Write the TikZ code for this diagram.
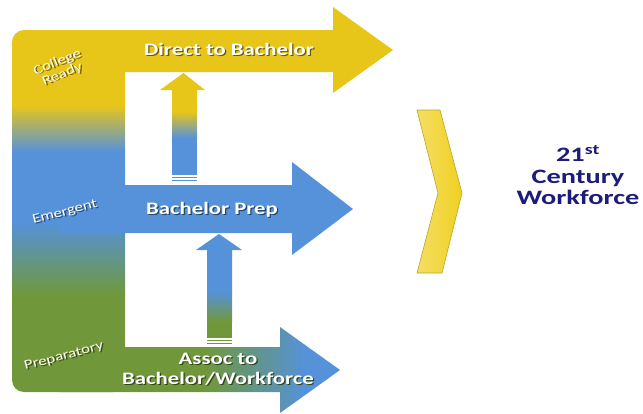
\documentclass[tikz,border=0pt]{standalone}
\usepackage{fontspec}
\setmainfont{Carlito}
\newfontfamily\widefont[FakeStretch=1.3]{Carlito}
\newfontfamily\widerfont[FakeStretch=1.38]{Carlito}
\definecolor{yellowc}{RGB}{232,198,25}
\definecolor{bluec}{RGB}{85,146,218}
\definecolor{greenc}{RGB}{112,152,58}
\definecolor{navyc}{RGB}{28,28,122}
\definecolor{chevc}{RGB}{240,208,32}
\definecolor{chevedge}{RGB}{190,165,40}
\newcommand\shd[2]{\leavevmode\rlap{\hspace{1.3pt}\raisebox{-1.3pt}{\color{#1}#2}}#2}
\begin{document}
\begin{tikzpicture}[x=1pt,y=-1pt,
  lbl/.style={text=white,font=\widefont\bfseries\fontsize{17.5}{20}\selectfont,align=center,inner sep=0pt},
  side/.style={text=white!92!yellow,font=\widefont\fontsize{13}{13}\selectfont,align=center,inner sep=0pt},
  goal/.style={text=navyc,font=\widerfont\bfseries\fontsize{20.5}{21.5}\selectfont,align=center,inner sep=0pt}]
\useasboundingbox (0,0) rectangle (643,413);
% left bar
\begin{scope}
\clip[rounded corners=12pt] (12,30) rectangle (125,392);
\fill[yellowc] (0,25) rectangle (130,105);
\shade[top color=yellowc,bottom color=bluec] (0,105) rectangle (130,152);
\fill[bluec] (0,152) rectangle (130,222);
\shade[top color=bluec,bottom color=greenc] (0,222) rectangle (130,295);
\fill[greenc] (0,295) rectangle (130,400);
\end{scope}
% top arrow
\fill[yellowc] (60,30) -- (333,30) -- (333,7) -- (393,50) -- (333,93) -- (333,72) -- (60,72) -- cycle;
% middle arrow
\fill[bluec] (60,185) -- (292,185) -- (292,162) -- (353,209) -- (292,255) -- (292,233) -- (60,233) -- cycle;
% bottom arrow
\begin{scope}
\clip (60,347) -- (280,347) -- (280,327) -- (340,370) -- (280,413) -- (280,392) -- (60,392) -- cycle;
\fill[greenc] (55,320) rectangle (205,420);
\shade[left color=greenc,right color=bluec] (205,320) rectangle (305,420);
\fill[bluec] (305,320) rectangle (345,420);
\end{scope}
% up arrow 1
\fill[yellowc] (160,90) -- (183.5,73) -- (205,90) -- (197,90) -- (197,112) -- (172,112) -- (172,90) -- cycle;
\shade[top color=yellowc,bottom color=bluec] (172,111.5) rectangle (197,138);
\fill[bluec] (172,137.5) rectangle (197,175);
\fill[bluec] (172,177) rectangle (197,178.3);
\fill[bluec] (172,180) rectangle (197,181.3);
% up arrow 2
\fill[bluec] (196,250) -- (219,234) -- (242,250) -- (232,250) -- (232,292) -- (207,292) -- (207,250) -- cycle;
\shade[top color=bluec,bottom color=greenc] (207,291.5) rectangle (232,322);
\fill[greenc] (207,321.5) rectangle (232,338);
\fill[greenc] (207,340) rectangle (232,341.3);
\fill[greenc] (207,343) rectangle (232,344.3);
% chevron
\shade[left color=chevc!70!white,right color=chevc,draw=chevedge,line width=0.6pt]
  (417,110) -- (440,110) -- (462,193) -- (442,273) -- (417,273) -- (438,193) -- cycle;
% labels
\node[lbl] (t1) at (229,50) {\shd{yellowc!45!black}{Direct to Bachelor}};
\node[lbl] (t2) at (212,210) {\shd{bluec!45!black}{Bachelor Prep}};
\node[lbl] (t3) at (218,370) {\shd{greenc!45!black}{Assoc to}\\\shd{greenc!45!black}{Bachelor/Workforce}};
\node[side,rotate=22] (s1) at (60,69) {\shd{yellowc!50!black}{College}\\\shd{yellowc!50!black}{Ready}};
\node[side,rotate=15] (s2) at (65,213) {\shd{bluec!50!black}{Emergent}};
\node[side,rotate=15] (s3) at (64,357) {\shd{greenc!50!black}{Preparatory}};
\node[goal] (g) at (578,175) {21\textsuperscript{st}\\Century\\Workforce};
\end{tikzpicture}
\end{document}
